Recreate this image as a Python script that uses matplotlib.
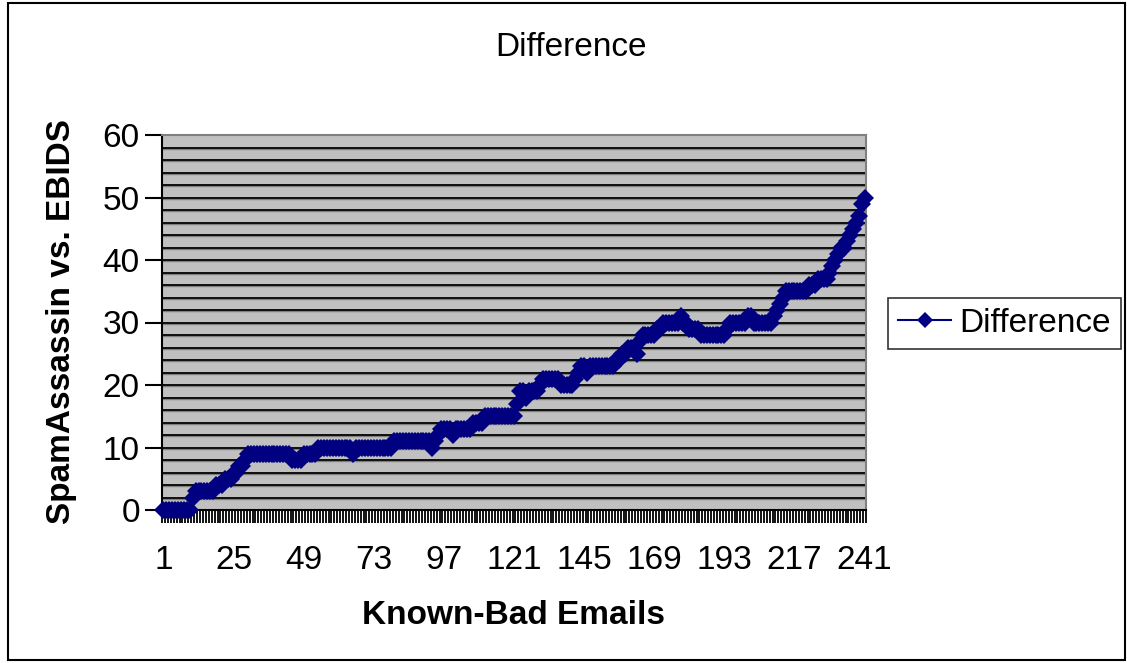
import matplotlib
matplotlib.use("Agg")
import matplotlib.pyplot as plt
from matplotlib.patches import Rectangle
from matplotlib.ticker import FixedLocator

plt.rcParams['font.family'] = ['Liberation Sans', 'DejaVu Sans']

title = "Difference"
series_name = "Difference"
x_label = "Known-Bad Emails"
y_label = "SpamAssassin vs. EBIDS"

emails = list(range(1, 242))
difference = [
    0, 0, 0, 0, 0, 0, 0, 0, 0, 0,          # 1-10
    2, 3, 3, 3, 3, 3, 3, 3,                # 11-18
    4, 4, 4, 5, 5, 5, 6, 6, 7, 7, 8,       # 19-29
    9, 9, 9, 9, 9, 9, 9, 9, 9, 9, 9, 9, 9, 9, 9,  # 30-44
    8, 8, 8, 8,                            # 45-48
    9, 9, 9, 9, 9,                         # 49-53
    10, 10, 10, 10, 10, 10, 10, 10, 10, 10, 10, 10,  # 54-65
    9,                                     # 66
    10, 10, 10, 10, 10, 10, 10, 10, 10, 10, 10, 10, 10,  # 67-79
    11, 11, 11, 11, 11, 11, 11, 11, 11, 11, 11, 11, 11,  # 80-92
    10, 11, 12, 13, 13, 13, 13, 12,        # 93-100
    13, 13, 13, 13, 13, 13,                # 101-106
    14, 14, 14, 14,                        # 107-110
    15, 15, 15, 15, 15, 15, 15, 15, 15, 15, 15,  # 111-121
    17, 19, 19, 18, 19, 19, 19, 19, 20,    # 122-130
    21, 21, 21, 21, 21, 21,                # 131-136
    20, 20, 20, 20, 20,                    # 137-141
    21, 22, 23, 23, 22,                    # 142-146
    23, 23, 23, 23, 23, 23, 23, 23, 23,    # 147-155
    24, 24, 25, 25, 26, 26, 26, 25, 27,    # 156-164
    28, 28, 28, 28, 28, 29, 29,            # 165-171
    30, 30, 30, 30, 30, 30, 31, 30, 30,    # 172-180
    29, 29, 29, 29,                        # 181-184
    28, 28, 28, 28, 28, 28, 28, 28, 28,    # 185-193
    29, 30, 30, 30, 30, 30, 30, 31, 31,    # 194-202
    30, 30, 30, 30, 30, 30, 30,            # 203-209
    31, 32, 33, 34,                        # 210-213
    35, 35, 35, 35, 35, 35, 35, 35,        # 214-221
    36, 36, 36, 37, 37, 37, 37,            # 222-228
    38, 39, 40, 41, 42, 42, 43, 44, 45, 46, 47, 49, 50,  # 229-241
]
x_tick_labels = [1, 25, 49, 73, 97, 121, 145, 169, 193, 217, 241]
y_ticks = [0, 10, 20, 30, 40, 50, 60]

W, H = 1127, 663
FS = 24
fig = plt.figure(figsize=(W / 100, H / 100), dpi=100)

# outer chart border
fig.patches.append(Rectangle((8 / W, 3 / H), (W - 10) / W, (H - 6) / H,
                             transform=fig.transFigure, fill=False,
                             edgecolor='black', linewidth=1.5))

ax = fig.add_axes([162 / W, 1 - 510 / H, (866 - 162) / W, (510 - 135) / H])
ax.set_facecolor('#C0C0C0')

ax.plot(emails, difference, color='#000080', linewidth=1.5,
        marker='D', markersize=9, markeredgewidth=0, label=series_name,
        zorder=3, clip_on=False)

ax.set_xlim(0.5, 241.5)
ax.set_ylim(0, 60)

# gridlines every 2
for v in range(2, 60, 2):
    ax.axhline(v - 0.16, color='#808080', linewidth=1.0, zorder=1)
    ax.axhline(v, color='black', linewidth=1.3, zorder=1.5)

ax.yaxis.set_major_locator(FixedLocator(y_ticks))
ax.set_yticklabels([str(v) for v in y_ticks])
ax.xaxis.set_major_locator(FixedLocator(x_tick_labels))
ax.set_xticklabels([str(v) for v in x_tick_labels])
ax.xaxis.set_minor_locator(FixedLocator([i + 0.5 for i in range(0, 242)]))

ax.tick_params(axis='x', which='major', length=0, pad=25, labelsize=FS)
ax.tick_params(axis='x', which='minor', length=9, width=1.3, direction='out', color='black')
ax.tick_params(axis='y', which='major', length=12, width=1.5, direction='out', pad=4, labelsize=FS)

for side in ['top', 'right']:
    ax.spines[side].set_color('#808080')
    ax.spines[side].set_linewidth(1.5)
for side in ['left', 'bottom']:
    ax.spines[side].set_color('black')
    ax.spines[side].set_linewidth(1.5)

fig.text(571 / W, 1 - 47 / H, title, ha='center', va='center', fontsize=FS)
fig.text(514 / W, 1 - 615 / H, x_label, ha='center', va='center',
         fontsize=FS, fontweight='bold')
fig.text(62 / W, 1 - 322 / H, y_label, ha='center', va='center',
         rotation=90, fontsize=FS, fontweight='bold')

leg = fig.legend(loc='center left', bbox_to_anchor=(888 / W, 1 - 323 / H),
                 frameon=True, fancybox=False, fontsize=FS, handlelength=1.6,
                 borderpad=0.3, handletextpad=0.25, borderaxespad=0,
                 markerscale=0.9)
leg.get_frame().set_edgecolor('black')
leg.get_frame().set_linewidth(1.2)

fig.savefig('out.png', dpi=100)
